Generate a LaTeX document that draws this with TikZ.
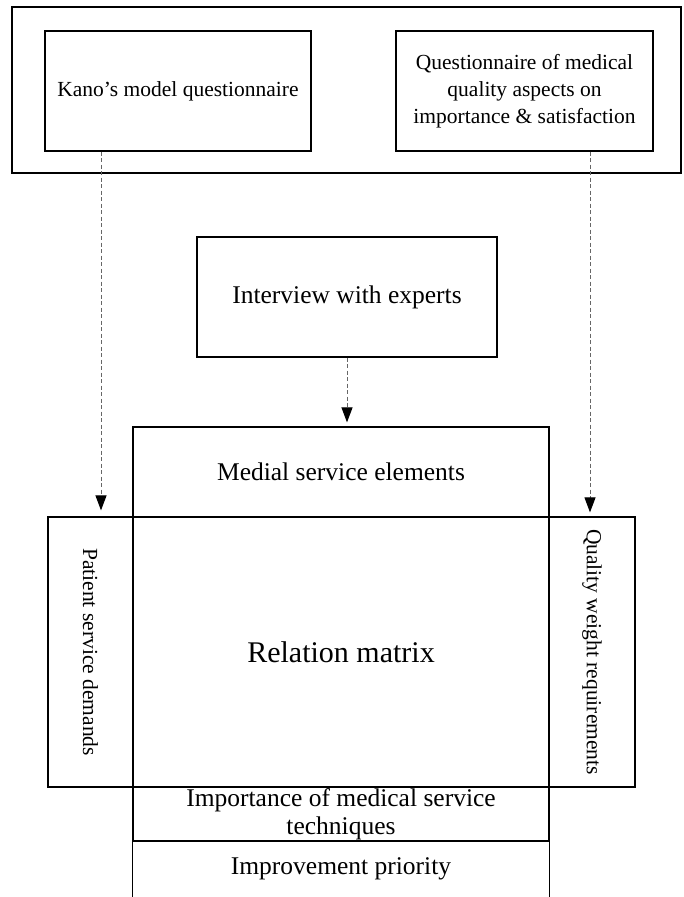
\documentclass[tikz,border=0pt]{standalone}
\usepackage{fontspec}
\setmainfont{Liberation Serif}
\usetikzlibrary{arrows.meta}
\tikzset{
  box/.style={draw=black, line width=1.2pt, rectangle, inner sep=0pt, align=center},
  smalltext/.style={font=\fontsize{21.5}{27}\selectfont},
  midtext/.style={font=\fontsize{25.5}{28}\selectfont},
  bigtext/.style={font=\fontsize{30}{34}\selectfont},
  dasharrow/.style={draw=black!60, line width=1pt, dash pattern=on 4pt off 2.5pt,
    -{Triangle[length=15pt,width=11pt,color=black]}}
}
\begin{document}
\begin{tikzpicture}[x=1pt,y=-1pt]
\useasboundingbox (0,0) rectangle (684,897);
% top group
\node[box, minimum width=669, minimum height=166] (outer) at (346.5,90) {};
\node[box, smalltext, minimum width=266, minimum height=120] (kano) at (178,91) {Kano’s model questionnaire};
\node[box, smalltext, minimum width=257, minimum height=120] (quest) at (524.5,91)
  {Questionnaire of medical\\quality aspects on\\importance \& satisfaction};
% interview
\node[box, midtext, minimum width=300, minimum height=120] (interview) at (347,297) {Interview with experts};
% house of quality
\node[box, midtext, minimum width=416, minimum height=90] (medial) at (341,472) {Medial service elements};
\node[box, bigtext, minimum width=416, minimum height=270] (relation) at (341,652) {Relation matrix};
\node[box, smalltext, minimum width=270, minimum height=85, rotate=-90] (patient) at (90.5,652) {Patient service demands};
\node[box, smalltext, minimum width=270, minimum height=86, rotate=-90] (quality) at (592,652) {Quality weight requirements};
\node[box, midtext, minimum width=416, minimum height=54] (importance) at (341,814) {Importance of medical service\\techniques};
\node[midtext, inner sep=0pt, minimum width=416, minimum height=56] (priority) at (341,869) {Improvement priority};
\draw[line width=1.2pt] (priority.north west) -- (priority.south west);
\draw[line width=1.2pt] (priority.north east) -- (priority.south east);
% connectors
\draw[dasharrow, shorten >=6pt] ([xshift=-77pt]kano.south) coordinate (ka) -- (ka |- patient.west);
\draw[dasharrow, shorten >=4pt] ([xshift=65.5pt]quest.south) coordinate (qa) -- (qa |- quality.west);
\draw[dasharrow, shorten >=4pt] (interview.south) -- (interview.south |- medial.north);
\end{tikzpicture}
\end{document}
